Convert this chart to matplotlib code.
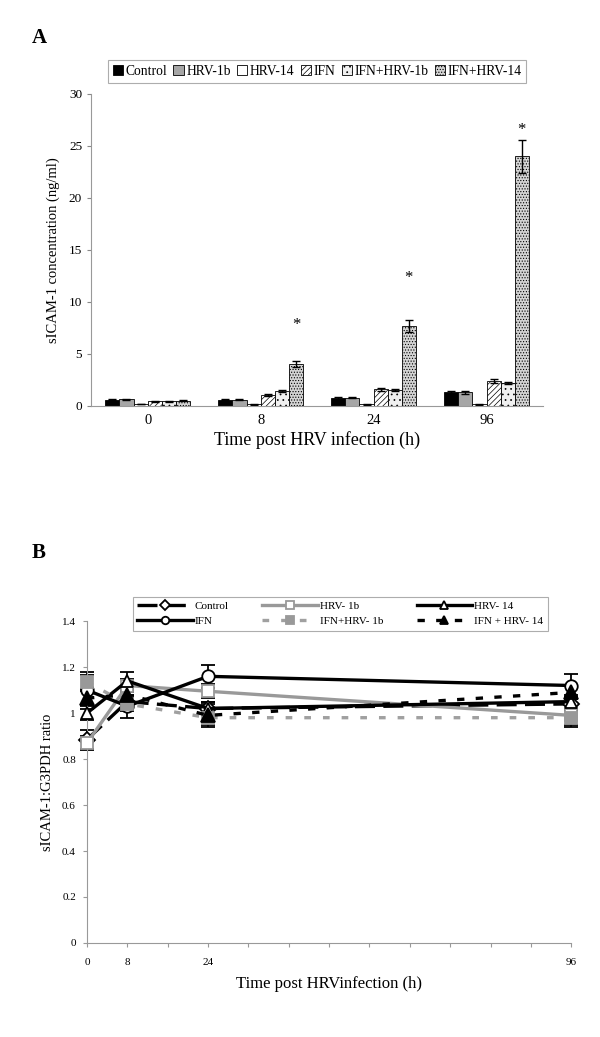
import matplotlib
matplotlib.use("Agg")
import matplotlib.pyplot as plt
import numpy as np

plt.rcParams['font.family'] = ['Liberation Serif', 'DejaVu Serif']
plt.rcParams['hatch.linewidth'] = 0.5

# ---------------- Panel A data ----------------
timepoints_a = ["0", "8", "24", "96"]
series_names = ["Control", "HRV-1b", "HRV-14", "IFN", "IFN+HRV-1b", "IFN+HRV-14"]
control_a = [0.6, 0.6, 0.75, 1.3]
hrv1b_a = [0.65, 0.6, 0.8, 1.3]
hrv14_a = [0.2, 0.15, 0.15, 0.15]
ifn_a = [0.45, 1.1, 1.6, 2.4]
ifn_hrv1b_a = [0.45, 1.4, 1.5, 2.2]
ifn_hrv14_a = [0.5, 4.0, 7.7, 24.0]
control_err = [0.05, 0.05, 0.1, 0.1]
hrv1b_err = [0.05, 0.05, 0.05, 0.1]
hrv14_err = [0.02, 0.02, 0.02, 0.02]
ifn_err = [0.05, 0.1, 0.15, 0.15]
ifn_hrv1b_err = [0.05, 0.1, 0.1, 0.1]
ifn_hrv14_err = [0.05, 0.3, 0.55, 1.6]
star_values = [None, 7.8, 12.3, 26.5]

# ---------------- Panel B data ----------------
legend_names_b = ["Control", "HRV- 1b", "HRV- 14", "IFN", "IFN+HRV- 1b", "IFN + HRV- 14"]
hours_b = [0, 8, 24, 96]
control_b = [0.885, 1.05, 1.02, 1.04]
hrv1b_b = [0.87, 1.12, 1.095, 0.99]
hrv14_b = [1.0, 1.14, 1.02, 1.05]
ifn_b = [1.10, 1.03, 1.16, 1.12]
ifn_hrv1b_b = [1.135, 1.04, 0.98, 0.98]
ifn_hrv14_b = [1.065, 1.08, 0.99, 1.09]
control_b_err = [0.04, 0.03, 0.03, 0.03]
hrv1b_b_err = [0.03, 0.03, 0.03, 0.05]
hrv14_b_err = [0.03, 0.04, 0.03, 0.03]
ifn_b_err = [0.08, 0.05, 0.05, 0.05]
ifn_hrv1b_b_err = [0.03, 0.03, 0.03, 0.03]
ifn_hrv14_b_err = [0.03, 0.03, 0.05, 0.03]

fig = plt.figure(figsize=(6.0, 10.37), dpi=100)

# ---------------- Panel A ----------------
axA = fig.add_axes([0.152, 0.6085, 0.753, 0.301])
vals_a = [control_a, hrv1b_a, hrv14_a, ifn_a, ifn_hrv1b_a, ifn_hrv14_a]
errs_a = [control_err, hrv1b_err, hrv14_err, ifn_err, ifn_hrv1b_err, ifn_hrv14_err]
faces = ["black", "#a6a6a6", "white", "white", "#f0f0f0", "#d4d4d4"]
hatches = [None, None, None, "//////", "...", "......"]
x = np.arange(len(timepoints_a))
w = 0.125
handles_a = []
for i, (v, e) in enumerate(zip(vals_a, errs_a)):
    pos = x + (i - 2.5) * w
    b = axA.bar(pos, v, width=w, color=faces[i], edgecolor="black",
                linewidth=0.6, hatch=hatches[i], label=series_names[i])
    axA.errorbar(pos, v, yerr=e, fmt="none", ecolor="black",
                 elinewidth=1.0, capsize=3, capthick=1.0)
    handles_a.append(b)
for j, s in enumerate(star_values):
    if s is not None:
        axA.text(x[j] + 2.5 * w, s, "*", ha="center", va="center", fontsize=12)
axA.set_xlim(-0.5, 3.5)
axA.set_ylim(0, 30)
axA.set_yticks([0, 5, 10, 15, 20, 25, 30])
axA.set_xticks(x)
axA.set_xticklabels(timepoints_a, fontsize=10.5)
axA.tick_params(axis="y", labelsize=9.5, length=3, color="#888888", direction="out")
axA.tick_params(axis="x", length=0, pad=6)
for sp in ["top", "right"]:
    axA.spines[sp].set_visible(False)
for sp in ["left", "bottom"]:
    axA.spines[sp].set_color("#999999")
axA.set_ylabel("sICAM-1 concentration (ng/ml)", fontsize=10.5, labelpad=6)
axA.set_xlabel("Time post HRV infection (h)", fontsize=13, labelpad=3)
legA = axA.legend(handles_a, series_names, ncol=6, loc="lower center",
                  bbox_to_anchor=(0.5, 1.022), frameon=True, fancybox=False,
                  fontsize=9.8, handlelength=0.75, handleheight=0.75,
                  handletextpad=0.2, columnspacing=0.45, borderpad=0.35,
                  borderaxespad=0.3)
legA.get_frame().set_edgecolor("#999999")
legA.get_frame().set_linewidth(0.8)
fig.text(0.053, 0.963, "A", fontsize=15, fontweight="bold", ha="left", va="center")

# ---------------- Panel B ----------------
axB = fig.add_axes([0.145, 0.0907, 0.807, 0.3103])
vals_b = [control_b, hrv1b_b, hrv14_b, ifn_b, ifn_hrv1b_b, ifn_hrv14_b]
errs_b = [control_b_err, hrv1b_b_err, hrv14_b_err, ifn_b_err, ifn_hrv1b_b_err, ifn_hrv14_b_err]
line_colors = ["black", "#999999", "black", "black", "#a0a0a0", "black"]
dash_styles = [(0, (6, 2.5)), "-", "-", "-", (0, (2, 3.6)), (0, (2.2, 3.4))]
markers = ["D", "s", "^", "o", "s", "^"]
mfaces = ["white", "white", "white", "white", "#999999", "black"]
medges = ["black", "#999999", "black", "black", "#999999", "black"]
msizes = [8, 9, 9, 9, 9, 10]
lines_b = []
for i in range(6):
    eb = axB.errorbar(hours_b, vals_b[i], yerr=errs_b[i], fmt="none", ecolor="black",
                      elinewidth=1.3, capsize=5, capthick=1.3, zorder=2)
    for art in eb.lines[1] + eb.lines[2]:
        art.set_clip_on(False)
    ln, = axB.plot(hours_b, vals_b[i], color=line_colors[i], linestyle=dash_styles[i],
                   linewidth=2.4, marker=markers[i], markersize=msizes[i],
                   markerfacecolor=mfaces[i], markeredgecolor=medges[i],
                   markeredgewidth=1.3, zorder=3, clip_on=False)
    lines_b.append(ln)
axB.set_xlim(0, 96)
axB.set_ylim(0, 1.4)
axB.set_xticks(np.arange(0, 97, 8))
axB.set_xticklabels(["0", "8", "", "24", "", "", "", "", "", "", "", "", "96"], fontsize=8)
axB.set_yticks([0, 0.2, 0.4, 0.6, 0.8, 1.0, 1.2, 1.4])
axB.set_yticklabels(["0", "0.2", "0.4", "0.6", "0.8", "1", "1.2", "1.4"], fontsize=8)
axB.tick_params(axis="y", length=3, color="#999999", direction="out", pad=5)
axB.tick_params(axis="x", length=3, color="#999999", direction="out", pad=8)
for sp in ["top", "right"]:
    axB.spines[sp].set_visible(False)
for sp in ["left", "bottom"]:
    axB.spines[sp].set_color("#999999")
axB.set_ylabel("sICAM-1:G3PDH ratio", fontsize=10.5, labelpad=6)
axB.set_xlabel("Time post HRVinfection (h)", fontsize=12, labelpad=6)
order = [0, 3, 1, 4, 2, 5]
legB = axB.legend([lines_b[k] for k in order], [legend_names_b[k] for k in order],
                  ncol=3, loc="lower center", bbox_to_anchor=(0.523, 0.97),
                  frameon=True, fancybox=False, fontsize=8, handlelength=5.0,
                  columnspacing=3.0, handletextpad=0.2, borderpad=0.4,
                  markerscale=0.6, borderaxespad=0.0)
legB.get_frame().set_edgecolor("#999999")
legB.get_frame().set_linewidth(0.8)
fig.text(0.053, 0.467, "B", fontsize=15, fontweight="bold", ha="left", va="center")

fig.savefig("out.png", dpi=100)
